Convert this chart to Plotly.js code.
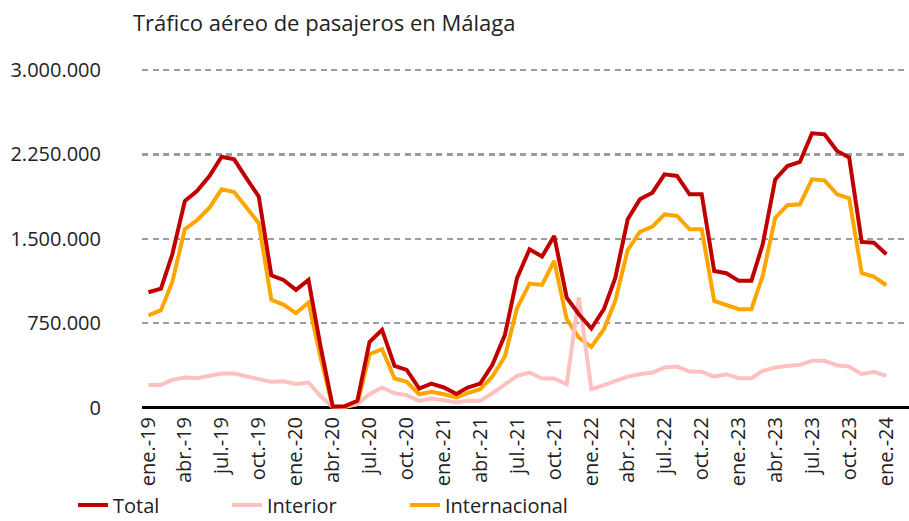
<!DOCTYPE html>
<html>
<head>
<meta charset="utf-8">
<script src="https://cdn.plot.ly/plotly-3.0.1.min.js"></script>
<style>html,body{margin:0;padding:0;background:#fff;}#chart{width:909px;height:521px;}</style>
</head>
<body>
<div id="chart"></div>
<script>
// Monthly observations (first day of each month), ene-2019 .. ene-2024
const months = [
  '2019-01-01','2019-02-01','2019-03-01','2019-04-01','2019-05-01','2019-06-01','2019-07-01','2019-08-01','2019-09-01','2019-10-01','2019-11-01','2019-12-01',
  '2020-01-01','2020-02-01','2020-03-01','2020-04-01','2020-05-01','2020-06-01','2020-07-01','2020-08-01','2020-09-01','2020-10-01','2020-11-01','2020-12-01',
  '2021-01-01','2021-02-01','2021-03-01','2021-04-01','2021-05-01','2021-06-01','2021-07-01','2021-08-01','2021-09-01','2021-10-01','2021-11-01','2021-12-01',
  '2022-01-01','2022-02-01','2022-03-01','2022-04-01','2022-05-01','2022-06-01','2022-07-01','2022-08-01','2022-09-01','2022-10-01','2022-11-01','2022-12-01',
  '2023-01-01','2023-02-01','2023-03-01','2023-04-01','2023-05-01','2023-06-01','2023-07-01','2023-08-01','2023-09-01','2023-10-01','2023-11-01','2023-12-01',
  '2024-01-01'
];

const total = [
  1025000,1057000,1362000,1836000,1925000,2059000,2230000,2207000,2035000,1875000,1176000,1134000,
  1046000,1134000,560000,8000,12000,59000,583000,690000,370000,335000,169000,213000,
  178000,120000,178000,213000,380000,645000,1150000,1407000,1342000,1525000,977000,829000,
  702000,874000,1150000,1674000,1851000,1910000,2073000,2059000,1896000,1896000,1214000,1194000,
  1126000,1126000,1451000,2029000,2147000,2183000,2438000,2429000,2281000,2222000,1472000,1466000,
  1363000
];

const interior = [
  201000,201000,246000,267000,260000,281000,302000,302000,272000,252000,228000,234000,
  210000,222000,104000,5000,8000,30000,118000,178000,127000,110000,59000,80000,
  65000,44000,59000,59000,127000,207000,281000,311000,258000,258000,207000,977000,
  163000,198000,237000,275000,296000,311000,355000,364000,320000,317000,275000,296000,
  261000,261000,326000,355000,370000,379000,415000,415000,376000,364000,296000,317000,
  281000
];

const internacional = [
  820000,865000,1117000,1585000,1665000,1777000,1940000,1916000,1777000,1638000,957000,915000,
  838000,933000,460000,3000,4000,30000,474000,518000,258000,228000,118000,139000,
  118000,89000,127000,163000,275000,453000,883000,1102000,1090000,1303000,785000,622000,
  539000,696000,948000,1401000,1561000,1608000,1718000,1703000,1585000,1585000,948000,909000,
  874000,874000,1170000,1688000,1798000,1807000,2029000,2020000,1896000,1860000,1194000,1164000,
  1087000
];

const tickDates = ['2019-01-01','2019-04-01','2019-07-01','2019-10-01','2020-01-01','2020-04-01','2020-07-01','2020-10-01',
  '2021-01-01','2021-04-01','2021-07-01','2021-10-01','2022-01-01','2022-04-01','2022-07-01','2022-10-01',
  '2023-01-01','2023-04-01','2023-07-01','2023-10-01','2024-01-01'];
const tickLabels = ['ene.-19','abr.-19','jul.-19','oct.-19','ene.-20','abr.-20','jul.-20','oct.-20',
  'ene.-21','abr.-21','jul.-21','oct.-21','ene.-22','abr.-22','jul.-22','oct.-22',
  'ene.-23','abr.-23','jul.-23','oct.-23','ene.-24'];

const yTicks = [0, 750000, 1500000, 2250000, 3000000];

const FONT = 'Open Sans, Noto Sans, sans-serif';
const TXT = '#222222';

const traces = [
  {x: months, y: internacional, name: 'Internacional', type: 'scatter', mode: 'lines',
   line: {color: '#FFA500', width: 4}, legend: 'legend3'},
  {x: months, y: interior, name: 'Interior', type: 'scatter', mode: 'lines',
   line: {color: '#FFC0C0', width: 4}, legend: 'legend2'},
  {x: months, y: total, name: 'Total', type: 'scatter', mode: 'lines',
   line: {color: '#C00000', width: 4}, legend: 'legend'}
];

const legendBase = {orientation: 'h', xref: 'container', yref: 'container', yanchor: 'middle', xanchor: 'left',
  y: 1 - 505/521, font: {family: FONT, size: 20, color: TXT}, bgcolor: 'rgba(0,0,0,0)', borderwidth: 0};

const layout = {
  width: 909, height: 521,
  paper_bgcolor: '#ffffff', plot_bgcolor: '#ffffff',
  separators: ',.',
  margin: {l: 142, r: 0, t: 68.87, b: 108.5, autoexpand: false},
  font: {family: FONT, color: TXT},
  title: {text: 'Tráfico aéreo de pasajeros en Málaga', xref: 'container', yref: 'container',
    x: 133/909, xanchor: 'left', y: 1 - 23/521, yanchor: 'middle',
    font: {family: FONT, size: 22, color: TXT}},
  xaxis: {type: 'date', range: ['2018-12-16', '2024-02-26'], tickmode: 'array',
    tickvals: tickDates, ticktext: tickLabels, tickangle: -90,
    tickfont: {family: FONT, size: 20, color: TXT},
    showgrid: false, zeroline: false, showline: false, ticks: '', fixedrange: true},
  yaxis: {range: [-40000, 3010000], tickmode: 'array', tickvals: yTicks, tickformat: ',d',
    tickfont: {family: FONT, size: 20, color: TXT},
    showgrid: true, gridcolor: '#9c9c9c', gridwidth: 2.5, griddash: '6px,4.5px',
    zeroline: true, zerolinecolor: '#000000', zerolinewidth: 2.5,
    showline: false, ticks: '', ticklabelstandoff: 40, fixedrange: true},
  legend: Object.assign({}, legendBase, {x: 73/909}),
  legend2: Object.assign({}, legendBase, {x: 227/909}),
  legend3: Object.assign({}, legendBase, {x: 405/909}),
  showlegend: true,
  hovermode: false
};

Plotly.newPlot('chart', traces, layout, {staticPlot: true, displayModeBar: false});
</script>
</body>
</html>
